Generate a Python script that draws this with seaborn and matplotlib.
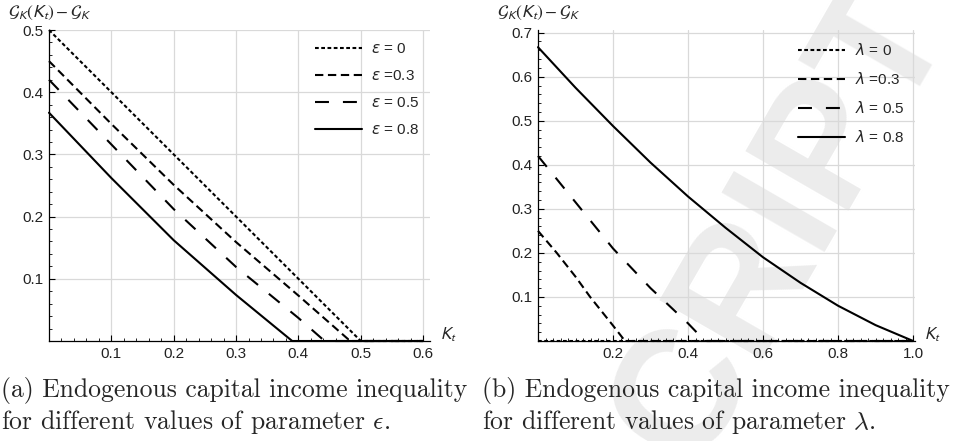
import numpy as np
import pandas as pd
import matplotlib
matplotlib.use("Agg")
import matplotlib.pyplot as plt
import seaborn as sns
from matplotlib.ticker import FixedLocator, MultipleLocator

# ---------------- data ----------------
# Panel (a): parameter epsilon
eps_labels = [r"$\epsilon$ = 0", r"$\epsilon$ =0.3", r"$\epsilon$ = 0.5", r"$\epsilon$ = 0.8"]
eps0_x = [0.0, 0.1, 0.2, 0.3, 0.4, 0.5, 0.6]
eps0_y = [0.5, 0.4, 0.3, 0.2, 0.1, 0.0, 0.0]
eps3_x = [0.0, 0.1, 0.2, 0.3, 0.4, 0.483, 0.6]
eps3_y = [0.45, 0.349, 0.251, 0.159, 0.073, 0.0, 0.0]
eps5_x = [0.0, 0.1, 0.2, 0.3, 0.4, 0.442, 0.6]
eps5_y = [0.42, 0.316, 0.212, 0.119, 0.037, 0.0, 0.0]
eps8_x = [0.0, 0.1, 0.2, 0.3, 0.39, 0.6]
eps8_y = [0.367, 0.262, 0.162, 0.074, 0.0, 0.0]

# Panel (b): parameter lambda
lam_labels = [r"$\lambda$ = 0", r"$\lambda$ =0.3", r"$\lambda$ = 0.5", r"$\lambda$ = 0.8"]
lam0_x = [0.0, 1.0]
lam0_y = [0.0, 0.0]
lam3_x = [0.0, 0.05, 0.1, 0.139, 0.2, 0.232, 1.0]
lam3_y = [0.25, 0.2, 0.146, 0.1, 0.035, 0.0, 0.0]
lam5_x = [0.0, 0.1, 0.2, 0.3, 0.4, 0.445, 1.0]
lam5_y = [0.42, 0.315, 0.21, 0.12, 0.04, 0.0, 0.0]
lam8_x = [0.0, 0.1, 0.2, 0.3, 0.4, 0.5, 0.6, 0.7, 0.8, 0.9, 1.0]
lam8_y = [0.667, 0.575, 0.488, 0.405, 0.328, 0.257, 0.19, 0.132, 0.08, 0.036, 0.0]

a_xticks = [0.1, 0.2, 0.3, 0.4, 0.5, 0.6]
a_yticks = [0.1, 0.2, 0.3, 0.4, 0.5]
b_xticks = [0.2, 0.4, 0.6, 0.8, 1.0]
b_yticks = [0.1, 0.2, 0.3, 0.4, 0.5, 0.6, 0.7]

caption_a = ["(a) Endogenous capital income inequality",
             r"for different values of parameter $\epsilon$."]
caption_b = ["(b) Endogenous capital income inequality",
             r"for different values of parameter $\lambda$."]
ylabel_txt = r"$\mathcal{G}_K(K_t) - \mathcal{G}_K$"
xlabel_txt = r"$K_t$"
watermark_txt = "CRIPT"

# ---------------- styling ----------------
sns.set_theme(style="white")
plt.rcParams["font.family"] = ["Liberation Sans", "DejaVu Sans"]
plt.rcParams["mathtext.fontset"] = "dejavusans"

LW = 1.5
dash_map = [(1.8, 1.2), (4.0, 2.2), (6.7, 6.7), ""]

def long_df(xs, ys, labels):
    frames = []
    for x, y, lab in zip(xs, ys, labels):
        frames.append(pd.DataFrame({"x": x, "y": y, "series": lab}))
    return pd.concat(frames, ignore_index=True)

fig = plt.figure(figsize=(9.57, 4.41), dpi=100)

# faint watermark behind everything
fig.text(692 / 957, 1 - 470 / 441, watermark_txt, rotation=60, rotation_mode="anchor",
         ha="left", va="baseline", fontsize=124, fontweight="bold", color="#ececec",
         zorder=-5, family="Liberation Sans")

ax_a = fig.add_axes([49 / 957, 1 - 341 / 441, (430 - 49) / 957, (341 - 30) / 441])
ax_b = fig.add_axes([538 / 957, 1 - 341 / 441, (915 - 538) / 957, (341 - 30) / 441])

panels = [
    (ax_a, long_df([eps0_x, eps3_x, eps5_x, eps8_x], [eps0_y, eps3_y, eps5_y, eps8_y], eps_labels),
     eps_labels, (0, 0.611), (0, 0.5), a_xticks, a_yticks, 0.02),
    (ax_b, long_df([lam0_x, lam3_x, lam5_x, lam8_x], [lam0_y, lam3_y, lam5_y, lam8_y], lam_labels),
     lam_labels, (0, 1.005), (0, 0.706), b_xticks, b_yticks, 0.02),
]

for ax, df, labels, xl, yl, xt, yt, minor in panels:
    ax.set_facecolor("none")
    sns.lineplot(data=df, x="x", y="y", style="series", style_order=labels,
                 dashes=dict(zip(labels, dash_map)), color="black", linewidth=LW,
                 ax=ax, sort=False, estimator=None, clip_on=False, zorder=3)
    ax.set_xlim(*xl)
    ax.set_ylim(*yl)
    ax.xaxis.set_major_locator(FixedLocator(xt))
    ax.yaxis.set_major_locator(FixedLocator(yt))
    ax.set_xticklabels([f"{v:.1f}" for v in xt])
    ax.set_yticklabels([f"{v:.1f}" for v in yt])
    ax.xaxis.set_minor_locator(MultipleLocator(minor))
    ax.yaxis.set_minor_locator(MultipleLocator(minor))
    ax.grid(True, which="major", color="#d9d9d9", linewidth=0.9, zorder=0)
    for s in ["top", "right"]:
        ax.spines[s].set_visible(False)
    for s in ["left", "bottom"]:
        ax.spines[s].set_color("black")
        ax.spines[s].set_linewidth(0.9)
        ax.spines[s].set_zorder(2)
    ax.tick_params(which="major", direction="in", length=4, width=0.8, color="black",
                   labelsize=11, labelcolor="#222222", left=True, bottom=True, pad=4)
    ax.tick_params(which="minor", direction="in", length=2.2, width=0.6, color="black",
                   left=True, bottom=True)
    ax.set_xlabel("")
    ax.set_ylabel("")
    leg = ax.legend(loc="upper right", bbox_to_anchor=(1.0, 0.995), frameon=False,
                    fontsize=11, handlelength=3.1, handletextpad=0.6, labelspacing=0.85,
                    borderaxespad=0.3)
    for line in leg.get_lines():
        line.set_linewidth(LW)
        line.set_color("black")
    # axis labels in Mathematica style
    ax.text(-0.108, 1.055, ylabel_txt, transform=ax.transAxes, fontsize=12.5,
            ha="left", va="center", math_fontfamily="stixsans")
    ax.text(1.025, 0.02, xlabel_txt, transform=ax.transAxes, fontsize=12,
            ha="left", va="center", math_fontfamily="stixsans")

# captions
cap_kw = dict(fontsize=18.5, family="cmr10", ha="left", va="baseline", math_fontfamily="cm")
fig.text(1 / 957, 1 - 397 / 441, caption_a[0], **cap_kw)
fig.text(1 / 957, 1 - 429 / 441, caption_a[1], **cap_kw)
fig.text(482 / 957, 1 - 397 / 441, caption_b[0], **cap_kw)
fig.text(482 / 957, 1 - 429 / 441, caption_b[1], **cap_kw)

fig.savefig("out.png", dpi=100)
